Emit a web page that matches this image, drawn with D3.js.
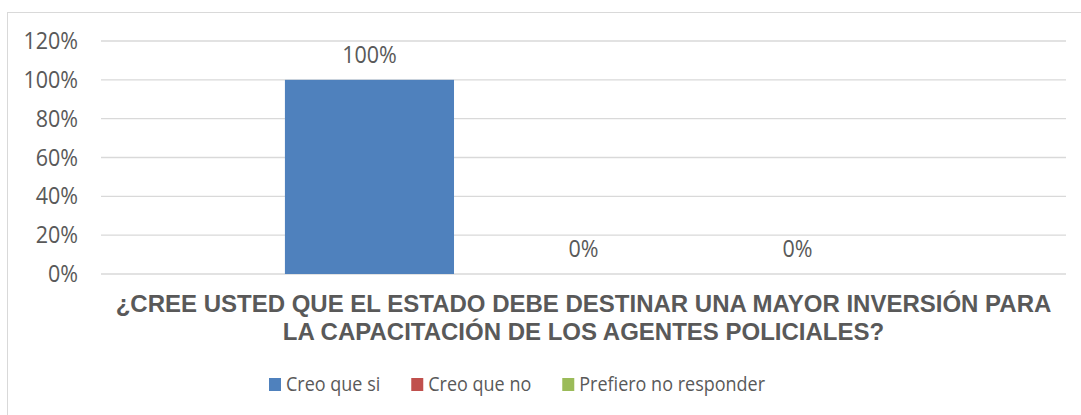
<!DOCTYPE html>
<html>
<head>
<meta charset="utf-8">
<script src="https://cdn.jsdelivr.net/npm/d3@7"></script>
<style>
  body { margin: 0; background: #fff; }
  svg text { fill: #595959; }
</style>
</head>
<body>
<div id="chart"></div>
<script>
// data
var categories = ["P1"];
var seriesNames = ["Creo que si", "Creo que no", "Prefiero no responder"];
var seriesValues = [1.00, 0.00, 0.00];
var seriesColors = ["#4f81bd", "#c0504d", "#9bbb59"];
var yTicks = [0, 0.2, 0.4, 0.6, 0.8, 1.0, 1.2];
var titleLines = ["¿CREE USTED QUE EL ESTADO DEBE DESTINAR UNA MAYOR INVERSIÓN PARA",
                  "LA CAPACITACIÓN DE LOS AGENTES POLICIALES?"];

var W = 1081, H = 415;

var svg = d3.select("#chart").append("svg")
  .attr("width", W).attr("height", H);

// outer frame (right and bottom edges fall outside the picture)
svg.append("rect")
  .attr("x", 7.5).attr("y", 12.5)
  .attr("width", W + 20).attr("height", H + 20)
  .attr("fill", "none").attr("stroke", "#d9d9d9");

var plotL = 101, plotR = 1066, plotT = 41, plotB = 274;

var y = d3.scaleLinear().domain([0, 1.2]).range([plotB, plotT]);

var x0 = d3.scaleBand().domain(categories).range([plotL, plotR])
  .paddingInner(0).paddingOuter(0.308);
var x1 = d3.scaleBand().domain(seriesNames).range([0, x0.bandwidth()])
  .paddingInner(0.21).paddingOuter(0);

// text in the picture is a little taller than it is wide
function stretchedText(sel, tx, ty, k) {
  return sel.attr("transform", "translate(" + tx + "," + ty + ") scale(1," + k + ")");
}

// gridlines
svg.append("g").selectAll("line")
  .data(yTicks).enter().append("line")
  .attr("x1", plotL).attr("x2", plotR)
  .attr("y1", function(d){ return y(d); })
  .attr("y2", function(d){ return y(d); })
  .attr("stroke", "#d9d9d9").attr("stroke-width", 1.3);

// y tick labels
svg.append("g").selectAll("text")
  .data(yTicks).enter().append("text")
  .attr("text-anchor", "end")
  .style("font-family", "'Open Sans'")
  .style("font-size", "21.5px")
  .text(function(d){ return d3.format(".0%")(d); })
  .each(function(d){ stretchedText(d3.select(this), 78, y(d) + 8, 1.08); });

// bars
var rows = seriesNames.map(function(s, i){ return { name: s, value: seriesValues[i], color: seriesColors[i] }; });

var g = svg.append("g").attr("transform", "translate(" + x0(categories[0]) + ",0)");

g.selectAll("rect")
  .data(rows).enter().append("rect")
  .attr("x", function(d){ return x1(d.name); })
  .attr("width", x1.bandwidth())
  .attr("y", function(d){ return y(d.value); })
  .attr("height", function(d){ return plotB - y(d.value); })
  .attr("fill", function(d){ return d.color; });

// data labels
g.selectAll("text")
  .data(rows).enter().append("text")
  .attr("text-anchor", "middle")
  .style("font-family", "'Open Sans'")
  .style("font-size", "21.5px")
  .text(function(d){ return d3.format(".0%")(d.value); })
  .each(function(d){ stretchedText(d3.select(this), x1(d.name) + x1.bandwidth() / 2, y(d.value) - 17, 1.08); });

// title
var cx = (plotL + plotR) / 2;
svg.append("g").selectAll("text")
  .data(titleLines).enter().append("text")
  .attr("text-anchor", "middle")
  .style("font-family", "'Liberation Sans', Arial, sans-serif")
  .style("font-weight", "bold")
  .style("font-size", "24px")
  .text(function(d){ return d; })
  .each(function(d, i){ stretchedText(d3.select(this), cx, 312 + i * 28, 1.0); });

// legend
var legend = svg.append("g");
var lx = 269;
rows.forEach(function(d){
  legend.append("rect")
    .attr("x", lx).attr("y", 378)
    .attr("width", 12).attr("height", 13)
    .attr("fill", d.color);
  var t = legend.append("text")
    .style("font-family", "'Open Sans'")
    .style("font-size", "18px")
    .text(d.name);
  stretchedText(t, lx + 17, 391, 1.12);
  lx = lx + 17 + t.node().getComputedTextLength() + 31;
});
</script>
</body>
</html>
